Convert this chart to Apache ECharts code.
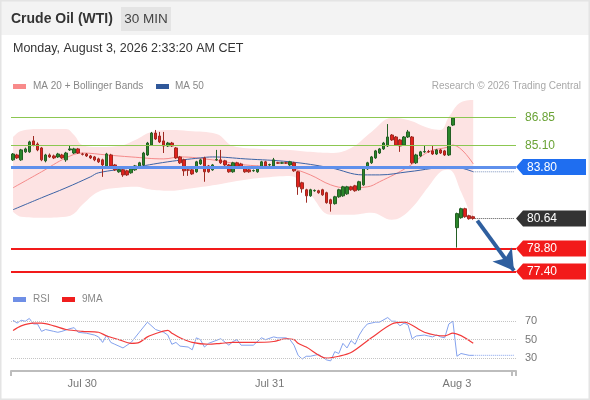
<!DOCTYPE html>
<html>
<head>
<meta charset="utf-8">
<title>Crude Oil (WTI) 30 MIN</title>
<script src="https://cdn.jsdelivr.net/npm/echarts@6.0.0/dist/echarts.min.js"></script>
<style>
  html, body { margin: 0; padding: 0; background: #fff; }
  #chart { width: 590px; height: 400px; }
</style>
</head>
<body>
<div id="chart"></div>
<script>
// ---- data ----
const slotCount = 124;              // 30 min slots shown on the axis (incl. empty future ones)
const dayStarts = [17, 63, 109];
const dayLabels = ['Jul 30', 'Jul 31', 'Aug 3'];

const opens = [84.23,84.53,84.23,84.72,84.72,85.39,85.20,84.96,84.17,84.53,84.47,84.41,84.53,84.23,84.84,84.65,84.90,84.59,84.59,84.47,
  84.41,84.29,84.23,83.86,84.53,83.92,83.50,83.62,83.56,83.44,83.62,83.74,83.92,84.53,85.14,85.87,85.69,85.39,85.08,85.26,
  84.96,84.41,84.23,83.62,83.62,83.50,83.98,84.35,83.86,83.62,84.23,84.23,84.17,83.92,83.50,84.05,83.98,83.80,83.62,83.56,
  83.50,83.74,84.11,83.92,83.86,84.05,84.03,84.05,83.92,84.05,83.50,82.83,82.40,82.03,82.34,82.34,82.40,82.22,81.79,81.55,
  81.97,82.03,82.15,82.58,82.64,82.40,82.70,83.68,84.05,84.35,84.65,84.90,85.08,85.75,85.63,85.45,85.14,85.63,85.63,84.05,
  84.47,84.72,84.74,84.78,84.59,84.84,84.78,84.53,86.36,80.08,80.69,81.24,80.81,80.75];
const closes = [84.59,84.35,84.84,84.90,85.33,85.14,84.84,84.23,84.53,84.41,84.35,84.59,84.35,84.65,84.90,84.90,84.65,84.57,84.47,84.35,
  84.23,84.11,83.92,84.59,83.86,83.62,83.62,83.31,83.31,83.68,83.86,84.05,84.65,85.26,85.87,85.51,85.33,85.08,85.26,85.08,
  84.35,84.05,83.56,83.60,83.37,84.11,84.23,83.50,83.50,83.92,84.25,84.05,83.92,83.50,84.05,83.74,83.74,83.50,83.50,83.58,
  83.80,84.11,83.86,83.94,84.23,84.03,84.05,84.03,84.11,83.56,82.58,82.46,82.03,82.40,82.36,82.22,82.09,81.61,81.55,81.97,
  82.40,82.58,82.58,82.40,82.34,82.89,83.74,84.05,84.41,84.78,84.90,85.26,85.63,85.45,85.14,85.08,85.63,85.94,84.05,84.53,
  84.72,84.74,84.72,84.59,84.84,84.65,84.53,86.24,86.79,80.94,81.24,80.75,80.63,80.64];
const lows = [84.17,84.29,84.17,84.66,84.66,85.06,84.76,84.15,84.08,84.35,84.28,84.35,84.29,84.11,84.78,84.59,84.59,84.50,84.41,84.28,
  84.15,84.04,83.19,83.80,83.80,83.55,83.44,83.19,83.25,83.38,83.56,83.68,83.86,84.47,85.08,85.45,85.26,84.65,85.02,85.02,
  84.29,83.98,83.25,83.25,83.31,83.44,83.92,82.89,83.44,83.56,84.17,83.98,83.86,83.44,83.44,83.68,83.68,83.44,83.44,83.50,
  83.44,83.68,83.80,83.86,83.80,83.98,83.98,83.98,83.86,83.50,82.09,82.22,81.61,81.97,82.28,82.16,82.03,81.55,81.06,81.49,
  81.91,81.97,82.09,82.34,82.28,82.34,82.64,83.62,83.98,84.29,84.59,84.84,85.02,85.39,85.08,84.72,85.08,85.57,83.98,83.98,
  84.41,84.66,84.66,84.53,84.53,84.59,84.47,84.47,86.30,78.86,80.63,80.69,80.57,80.57];
const highs = [84.65,84.60,84.90,84.98,85.40,85.69,85.30,85.02,84.60,84.62,84.55,84.66,84.60,84.72,85.14,84.97,84.96,84.66,84.65,84.53,
  84.47,84.36,84.30,84.66,84.60,83.98,83.68,83.68,83.62,83.74,83.92,84.11,84.72,85.33,85.94,86.06,85.94,85.94,85.33,85.33,
  85.02,84.47,84.30,83.70,83.68,84.17,84.30,84.42,83.92,83.98,84.84,84.84,84.23,83.98,84.11,84.11,84.05,83.86,83.68,83.64,
  83.86,84.17,84.17,84.00,84.35,84.11,84.11,84.11,84.17,84.11,83.56,82.89,82.46,82.46,82.42,82.40,82.46,82.28,81.85,82.03,
  82.46,82.64,82.64,82.64,82.70,82.95,83.80,84.11,84.47,84.84,84.96,85.33,86.42,85.81,85.69,85.51,85.69,86.06,85.69,84.60,
  84.78,85.08,84.84,85.08,84.90,84.90,84.84,86.30,86.85,81.00,81.30,81.30,80.87,80.81];

// Bollinger bands (20) and moving averages, sampled where read
const bbIdx   = [0,2,7,13,15,17,21,26,30,34,39,43,50,54,61,68,73,78,83,88,93,97,102,105,107,110,113];
const bbUpper = [85.63,86.00,86.12,86.12,85.75,85.14,85.02,85.08,85.45,85.94,86.06,86.00,85.81,85.08,84.90,84.84,84.72,84.65,84.96,85.94,86.79,86.67,86.18,86.06,86.85,87.76,87.89];
const bbLower = [81.06,80.75,80.69,80.75,80.94,81.48,82.28,82.52,82.58,82.40,82.34,82.46,82.70,82.89,83.13,83.25,82.09,80.87,80.87,81.00,80.57,81.06,82.58,83.50,83.62,82.28,80.45];
const ma20Idx = [0,7,13,17,23,29,37,41,49,57,66,68,73,78,82,87,90,97,102,107,108,113];
const ma20Val = [82.52,83.50,84.35,84.65,84.53,84.41,84.29,84.41,84.23,83.92,83.80,83.74,83.31,82.70,82.52,82.58,82.89,83.80,84.72,85.02,85.14,83.98];
const ma50Idx = [0,7,13,19,21,29,38,46,49,57,68,78,86,90,97,108,113];
const ma50Val = [81.18,81.91,82.52,83.19,83.44,83.74,84.11,84.35,84.41,84.29,84.11,83.74,83.31,83.31,83.50,83.80,83.50];

// key levels
const resistLevels = [86.85, 85.10];
const pivotLevel = 83.80;
const supportLevels = [78.80, 77.40];
const lastPrice = 80.64;
const arrowFrom = [114, 80.51];
const arrowTo = [123, 77.45];

// RSI panel
const rsiIdx = [0,1,2,3,4,5,6,7,8,10,11,12,14,15,16,18,20,21,22,23,24,25,27,28,29,31,33,35,37,38,39,40,41,43,44,45,46,47,48,51,
  53,54,55,56,59,61,62,64,65,67,68,69,70,71,72,73,75,76,77,78,79,80,81,82,83,84,85,86,87,89,90,92,93,94,95,96,97,98,99,101,
  102,103,104,105,106,107,108,109,110,111,112,113];
const rsiVal = [71,68,71,70,73,67,67,59,61,59,58,59,62,63,58,57,55,53,47,55,47,45,41,44,47,58,69,61,58,55,45,47,43,42,39,52,50,42,46,51,
  44,48,50,44,44,52,50,53,52,52,50,44,33,29,32,32,34,31,28,27,37,35,46,41,49,45,55,62,67,69,69,74,70,70,65,68,66,51,54,55,
  54,53,55,53,52,67,70,32,35,34,33,33];
const rsiMaIdx = [0,2,5,7,10,13,17,21,23,26,29,31,33,36,38,39,41,44,48,51,54,59,64,67,69,70,72,77,80,83,88,93,96,101,106,108,113];
const rsiMaVal = [60,65,68,68,65,61,59,58,54,50,46,47,53,58,60,57,52,47,45,46,47,47,48,51,50,46,42,30,32,36,52,67,69,58,54,57,46];
const rsiLevels = [70, 50, 30];

// ---- build ----
const FONT = '"Liberation Sans", Arial, sans-serif';
const categories = [];
for (let i = 0; i < slotCount; i++) categories.push(String(i));

const candles = opens.map((o, i) => [o, closes[i], lows[i], highs[i]]);
const zip = (xs, ys) => xs.map((x, i) => [x, ys[i]]);
const lastIdx = opens.length - 1;
const rsiLast = rsiVal[rsiVal.length - 1];
const ma50Last = ma50Val[ma50Val.length - 1];

const chart = echarts.init(document.getElementById('chart'), null, { renderer: 'canvas' });

const levelLine = (v, color, width) => ({ yAxis: v, lineStyle: { color: color, width: width, type: 'solid' } });

const option = {
  animation: false,
  backgroundColor: '#ffffff',
  textStyle: { fontFamily: FONT },
  grid: [
    { left: 11, right: 74, top: 95, height: 183 },
    { left: 11, right: 74, top: 312, height: 59 }
  ],
  xAxis: [
    { type: 'category', gridIndex: 0, data: categories, boundaryGap: true, show: false },
    {
      type: 'category', gridIndex: 1, data: categories, boundaryGap: true,
      axisLine: { lineStyle: { color: '#bdbdbd', width: 2 } },
      axisTick: { show: true, length: 5, interval: (i) => i === 0 || i === slotCount - 1, lineStyle: { color: '#bdbdbd', width: 2 } },
      axisLabel: {
        color: '#777', fontSize: 11, margin: 7,
        interval: (i) => dayStarts.indexOf(i) >= 0,
        formatter: (v, i) => { const k = dayStarts.indexOf(i); return k >= 0 ? dayLabels[k] : ''; }
      },
      splitLine: { show: false }
    }
  ],
  yAxis: [
    { type: 'value', gridIndex: 0, min: 77.0, max: 88.2, show: false, splitLine: { show: false } },
    { type: 'value', gridIndex: 1, min: 16, max: 80, show: false, splitLine: { show: false } }
  ],
  series: [
    {
      name: 'bbLower', type: 'line', xAxisIndex: 0, yAxisIndex: 0, z: 1,
      data: zip(bbIdx, bbLower), stack: 'bb', smooth: 0.4, symbol: 'none',
      lineStyle: { opacity: 0 }, silent: true
    },
    {
      name: 'bbBand', type: 'line', xAxisIndex: 0, yAxisIndex: 0, z: 1,
      data: zip(bbIdx, bbUpper.map((u, k) => +(u - bbLower[k]).toFixed(2))), stack: 'bb', smooth: 0.4, symbol: 'none',
      lineStyle: { opacity: 0 }, areaStyle: { color: '#fde3e3', opacity: 1 }, silent: true
    },
    {
      name: 'levels', type: 'line', xAxisIndex: 0, yAxisIndex: 0, z: 2,
      data: [[lastIdx, lastPrice], [slotCount - 1, lastPrice]], symbol: 'none',
      lineStyle: { color: '#555', width: 1, type: 'dotted' }, silent: true,
      markLine: {
        silent: true, symbol: 'none', label: { show: false },
        data: [
          levelLine(resistLevels[0], '#8cc751', 1.2),
          levelLine(resistLevels[1], '#8cc751', 1.2),
          levelLine(pivotLevel, '#5f90ec', 3),
          levelLine(supportLevels[0], '#f21a1a', 2),
          levelLine(supportLevels[1], '#f21a1a', 2)
        ]
      }
    },
    {
      name: 'MA 20', type: 'line', xAxisIndex: 0, yAxisIndex: 0, z: 3,
      data: zip(ma20Idx, ma20Val), smooth: 0.4, symbol: 'none',
      lineStyle: { color: '#f58a8a', width: 1 }, silent: true
    },
    {
      name: 'MA 50', type: 'line', xAxisIndex: 0, yAxisIndex: 0, z: 3,
      data: zip(ma50Idx, ma50Val), smooth: 0.4, symbol: 'none',
      lineStyle: { color: '#3c63a6', width: 1 }, silent: true
    },
    {
      name: 'ma50Ext', type: 'line', xAxisIndex: 0, yAxisIndex: 0, z: 3,
      data: [[lastIdx, ma50Last], [slotCount - 1, ma50Last]], symbol: 'none',
      lineStyle: { color: '#7d93bf', width: 1, type: 'dotted' }, silent: true
    },
    {
      name: 'WTI', type: 'candlestick', xAxisIndex: 0, yAxisIndex: 0, z: 4,
      data: candles, barWidth: 3,
      itemStyle: { color: '#2a862a', color0: '#e3211c', borderColor: '#245f24', borderColor0: '#9e2a22', borderWidth: 1 },
      silent: true
    },
    {
      name: 'arrow', type: 'line', xAxisIndex: 0, yAxisIndex: 0, z: 5, data: [], silent: true,
      markLine: {
        silent: true, symbol: ['none', 'arrow'], symbolSize: [18, 20], label: { show: false },
        lineStyle: { color: '#2f5f9f', width: 4, type: 'solid' },
        data: [[{ coord: arrowFrom }, { coord: arrowTo }]]
      }
    },
    {
      name: 'RSI', type: 'line', xAxisIndex: 1, yAxisIndex: 1, z: 3,
      data: zip(rsiIdx, rsiVal), symbol: 'none',
      lineStyle: { color: '#84a2ee', width: 1 }, silent: true,
      markLine: {
        silent: true, symbol: 'none',
        lineStyle: { color: '#c4c4c4', width: 1, type: 'dotted' },
        label: { show: true, position: 'end', distance: 9, color: '#777', fontSize: 11, formatter: (p) => String(p.value) },
        data: rsiLevels.map((v) => ({ yAxis: v }))
      }
    },
    {
      name: 'rsiExt', type: 'line', xAxisIndex: 1, yAxisIndex: 1, z: 3,
      data: [[lastIdx, rsiLast], [slotCount - 1, rsiLast]], symbol: 'none',
      lineStyle: { color: '#84a2ee', width: 1, type: 'dotted' }, silent: true
    },
    {
      name: '9MA', type: 'line', xAxisIndex: 1, yAxisIndex: 1, z: 4,
      data: zip(rsiMaIdx, rsiMaVal), smooth: 0.3, symbol: 'none',
      lineStyle: { color: '#f23a3a', width: 1.2 }, silent: true
    }
  ]
};

chart.setOption(option);

// ---- header, legends and price tags ----
const text = (x, y, s, size, color, extra) => ({
  type: 'text', x: x, y: y, silent: true, z: 10,
  style: Object.assign({ text: s, fontSize: size, fontFamily: FONT, fill: color, align: 'left', verticalAlign: 'middle' }, extra || {})
});
const rect = (x, y, w, h, fill, z) => ({ type: 'rect', silent: true, z: z || 9, shape: { x: x, y: y, width: w, height: h }, style: { fill: fill } });

const tag = (value, color) => {
  const y = chart.convertToPixel({ yAxisIndex: 0 }, value);
  return [
    { type: 'polygon', silent: true, z: 10, shape: { points: [[516, y], [523, y - 8], [586, y - 8], [586, y + 8], [523, y + 8]] }, style: { fill: color } },
    text(527, y + 0.5, value.toFixed(2), 12, '#ffffff', { z: 11 })
  ];
};

const graphics = [
  { type: 'rect', silent: true, z: 0, shape: { x: 0, y: 0, width: 590, height: 35 }, style: { fill: '#f3f3f3' } },
  text(11, 19, 'Crude Oil (WTI)', 14, '#333', { fontWeight: 'bold' }),
  rect(121, 7, 50, 24, '#e4e4e4'),
  text(146, 19, '30 MIN', 13.5, '#444', { align: 'center' }),
  text(13, 49, 'Monday, August 3, 2026 2:33:20 AM CET', 12.5, '#333'),
  rect(13, 84, 13, 5, '#f88a8a'),
  text(33, 86.5, 'MA 20 + Bollinger Bands', 10, '#888'),
  rect(156, 84, 13, 5, '#30589a'),
  text(175, 86.5, 'MA 50', 10, '#888'),
  text(581, 86.5, 'Research \u00a9 2026 Trading Central', 10, '#a8a8a8', { align: 'right' }),
  rect(13, 297, 13, 5, '#6f8fe6'),
  text(33, 299.5, 'RSI', 10, '#888'),
  rect(62, 297, 13, 5, '#f01e1e'),
  text(82, 299.5, '9MA', 10, '#888'),
  { type: 'rect', silent: true, z: 12, shape: { x: 0.5, y: 0.5, width: 589, height: 399 }, style: { fill: 'none', stroke: '#e4e4e4', lineWidth: 2 } }
];

resistLevels.forEach((v) => {
  graphics.push(text(525, chart.convertToPixel({ yAxisIndex: 0 }, v) + 0.5, v.toFixed(2), 12, '#6aa336'));
});
tag(pivotLevel, '#1f6ef0').forEach((g) => graphics.push(g));
tag(lastPrice, '#333333').forEach((g) => graphics.push(g));
supportLevels.forEach((v) => tag(v, '#f21a1a').forEach((g) => graphics.push(g)));

chart.setOption({ graphic: graphics });
window.addEventListener('resize', chart.resize);
</script>
</body>
</html>
